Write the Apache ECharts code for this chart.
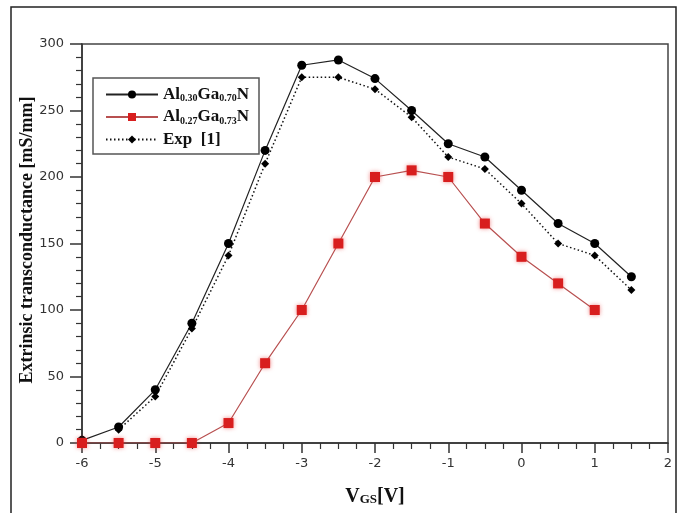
<!DOCTYPE html>
<html>
<head>
<meta charset="utf-8">
<script src="https://cdn.jsdelivr.net/npm/echarts@6/dist/echarts.min.js"></script>
<style>
  html, body { margin: 0; padding: 0; background: #fff; }
  #main { width: 682px; height: 513px; }
</style>
</head>
<body>
<div id="main"></div>
<script>
  // V_GS values (V)
  var vgs = [-6, -5.5, -5, -4.5, -4, -3.5, -3, -2.5, -2, -1.5, -1, -0.5, 0, 0.5, 1, 1.5];
  // Al0.30Ga0.70N
  var gmAl30 = [2, 12, 40, 90, 150, 220, 284, 288, 274, 250, 225, 215, 190, 165, 150, 125];
  // Al0.27Ga0.73N (ends at 1 V)
  var gmAl27 = [0, 0, 0, 0, 15, 60, 100, 150, 200, 205, 200, 165, 140, 120, 100];
  // Exp [1] (starts at -5.5 V)
  var vgsExp = [-5.5, -5, -4.5, -4, -3.5, -3, -2.5, -2, -1.5, -1, -0.5, 0, 0.5, 1, 1.5];
  var gmExp = [10, 35, 86, 141, 210, 275, 275, 266, 245, 215, 206, 180, 150, 141, 115];

  function pairs(xs, ys) {
    return ys.map(function (y, i) { return [xs[i], y]; });
  }

  var serif = '"Liberation Serif", "DejaVu Serif", serif';
  var sub = {
    b: { fontFamily: serif, fontWeight: 'bold', fontSize: 17, color: '#111' },
    s: { fontFamily: serif, fontWeight: 'bold', fontSize: 10, color: '#111', padding: [8, 0, 0, 0] }
  };

  var chart = echarts.init(document.getElementById('main'));
  chart.setOption({
    animation: false,
    graphic: [
      {
        type: 'rect',
        shape: { x: 11, y: 7, width: 665, height: 520 },
        style: { fill: 'none', stroke: '#222', lineWidth: 1.5 }
      },
      {
        // y axis title
        type: 'text', x: 27, y: 240, rotation: Math.PI / 2,
        style: {
          text: 'Extrinsic transconductance [mS/mm]',
          font: 'bold 18px ' + serif, fill: '#111',
          align: 'center', verticalAlign: 'middle'
        }
      }
    ],
    grid: {
      left: 82, top: 44, width: 586, height: 399,
      show: true, borderColor: '#444', borderWidth: 1.5, backgroundColor: 'transparent'
    },
    legend: {
      left: 93, top: 78,
      orient: 'vertical',
      itemWidth: 52, itemHeight: 10, itemGap: 5,
      padding: [8, 10, 6, 12],
      borderColor: '#555', borderWidth: 1.5,
      data: ['Al30', 'Al27', 'Exp'],
      formatter: function (name) {
        if (name === 'Al30') return '{b|Al}{s|0.30}{b|Ga}{s|0.70}{b|N}';
        if (name === 'Al27') return '{b|Al}{s|0.27}{b|Ga}{s|0.73}{b|N}';
        return '{b|Exp  [1]}';
      },
      textStyle: { rich: sub }
    },
    xAxis: {
      type: 'value', min: -6, max: 2, interval: 1,
      name: '{v|V}{s|GS}{v|[V]}',
      nameLocation: 'middle', nameGap: 44,
      nameTextStyle: {
        rich: {
          v: { fontFamily: serif, fontWeight: 'bold', fontSize: 20, color: '#111' },
          s: { fontFamily: serif, fontWeight: 'bold', fontSize: 13, color: '#111', padding: [6, 0, 0, 0] }
        }
      },
      axisLine: { onZero: false, lineStyle: { color: '#333', width: 1.5 } },
      axisTick: { length: 10, lineStyle: { color: '#333', width: 1.5 } },
      minorTick: { show: true, splitNumber: 4, length: 6, lineStyle: { color: '#333', width: 1.2 } },
      splitLine: { show: false },
      axisLabel: { color: '#333', fontSize: 13, fontFamily: '"DejaVu Sans", sans-serif', margin: 14 }
    },
    yAxis: {
      type: 'value', min: 0, max: 300, interval: 50,
      axisLine: { onZero: false, lineStyle: { color: '#333', width: 1.5 } },
      axisTick: { length: 12, lineStyle: { color: '#333', width: 1.5 } },
      minorTick: { show: true, splitNumber: 5, length: 6, lineStyle: { color: '#333', width: 1.2 } },
      splitLine: { show: false },
      axisLabel: { color: '#333', fontSize: 13, fontFamily: '"DejaVu Sans", sans-serif', margin: 18 }
    },
    series: [
      {
        name: 'Al30', type: 'line', data: pairs(vgs, gmAl30),
        symbol: 'circle', symbolSize: 9,
        itemStyle: { color: '#000' },
        lineStyle: { color: '#222', width: 1.2 }
      },
      {
        name: 'Al27', type: 'line', data: pairs(vgs, gmAl27),
        symbol: 'rect', symbolSize: 10,
        itemStyle: { color: '#d81e1e', shadowBlur: 4, shadowColor: 'rgba(230,60,60,0.6)' },
        lineStyle: { color: '#b85050', width: 1.2 }
      },
      {
        name: 'Exp', type: 'line', data: pairs(vgsExp, gmExp),
        symbol: 'diamond', symbolSize: 8,
        itemStyle: { color: '#000' },
        lineStyle: { color: '#111', width: 1.5, type: [1.5, 2.5] }
      }
    ]
  });
</script>
</body>
</html>
